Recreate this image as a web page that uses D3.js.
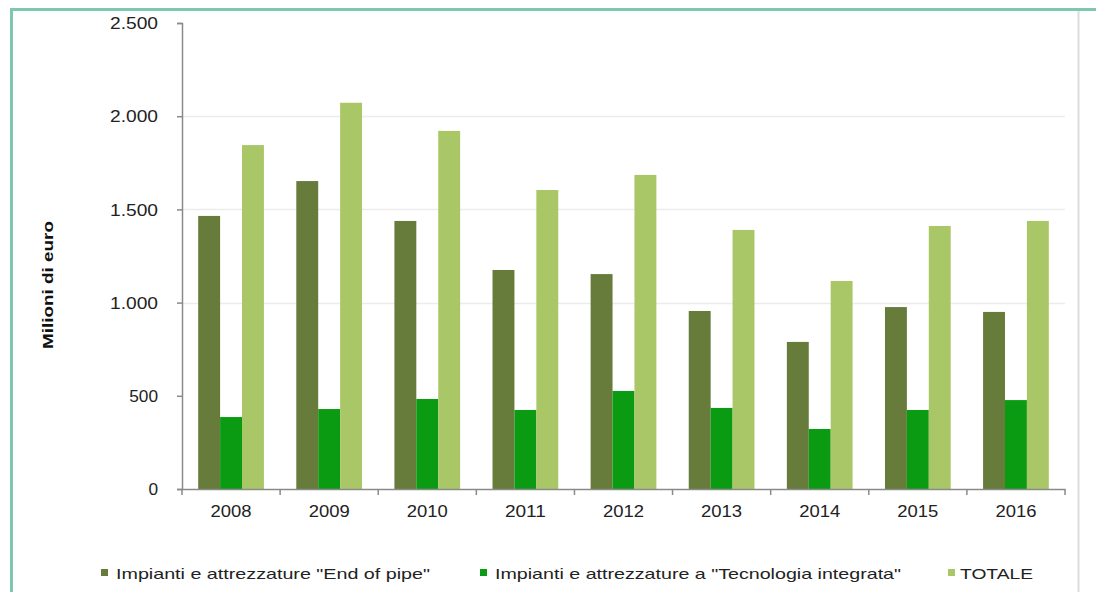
<!DOCTYPE html>
<html><head><meta charset="utf-8">
<script src="https://cdn.jsdelivr.net/npm/d3@7"></script>
<style>
html,body{margin:0;padding:0;background:#fff;}
svg{display:block;font-family:"Liberation Sans",Arial,sans-serif;}
</style></head>
<body>
<svg id="c" width="1096" height="592"></svg>
<script>
const years = ["2008","2009","2010","2011","2012","2013","2014","2015","2016"];
const endOfPipe = [1465, 1652, 1438, 1175, 1153, 955, 789, 976, 950];
const tecnologiaIntegrata = [386, 429, 483, 424, 526, 435, 322, 424, 477];
const totale = [1845, 2072, 1921, 1604, 1685, 1390, 1116, 1411, 1438];
const seriesNames = ['Impianti e attrezzature "End of pipe"', 'Impianti e attrezzature a "Tecnologia integrata"', 'TOTALE'];
const seriesColors = ["#677b3a", "#0b9b12", "#a9c766"];
const yTicks = [0, 500, 1000, 1500, 2000, 2500];

const svg = d3.select("#c");
// frame
svg.append("rect").attr("x",0).attr("y",0).attr("width",1096).attr("height",592).attr("fill","#fff");
svg.append("line").attr("x1",1078.5).attr("x2",1078.5).attr("y1",10).attr("y2",592).attr("stroke","#dcdcdc").attr("stroke-width",2);
svg.append("line").attr("x1",10).attr("x2",1096).attr("y1",9.5).attr("y2",9.5).attr("stroke","#7fc7b0").attr("stroke-width",3);
svg.append("line").attr("x1",11.5).attr("x2",11.5).attr("y1",8).attr("y2",592).attr("stroke","#7fc7b0").attr("stroke-width",3);

const x0 = d3.scaleBand().domain(years).range([182, 1065]).paddingInner(0.33).paddingOuter(0.165);
const keys = [0,1,2];
const x1 = d3.scaleBand().domain(keys).range([0, x0.bandwidth()]);
const y = d3.scaleLinear().domain([0, 2500]).range([489, 23]);

// grid
svg.append("g").selectAll("line").data([1000,1500,2000]).join("line")
  .attr("x1",183).attr("x2",1065).attr("y1",d=>Math.round(y(d))+0.5).attr("y2",d=>Math.round(y(d))+0.5)
  .attr("stroke","#ececec").attr("stroke-width",1.5);

const data = years.map((yr,i)=>({yr, vals:[endOfPipe[i], tecnologiaIntegrata[i], totale[i]]}));
svg.append("g").selectAll("g").data(data).join("g")
  .attr("transform", d=>`translate(${x0(d.yr)},0)`)
  .selectAll("rect").data(d=>d.vals.map((v,k)=>({v,k}))).join("rect")
  .attr("x", d=>x1(d.k)).attr("width", x1.bandwidth())
  .attr("y", d=>y(d.v)).attr("height", d=>y(0)-y(d.v))
  .attr("fill", d=>seriesColors[d.k]);

// y axis
const yAxis = svg.append("g").attr("transform","translate(182,0)")
  .call(d3.axisLeft(y).tickValues(yTicks).tickSize(5).tickPadding(19)
    .tickFormat(d=>d3.formatLocale({decimal:",",thousands:".",grouping:[3],currency:["€",""]}).format(",")(d)));
yAxis.select(".domain").attr("stroke","#8a8a8a").attr("stroke-width",1.5);
yAxis.selectAll(".tick line").attr("stroke","#8a8a8a").attr("stroke-width",1.5);
yAxis.selectAll(".tick text").attr("font-size",16).attr("fill","#222").attr("dy","0.36em")
  .attr("textLength", function(){return this.textContent.length*9.6;}).attr("lengthAdjust","spacingAndGlyphs");

// x axis
const xAxis = svg.append("g").attr("transform","translate(0,489)")
  .call(d3.axisBottom(x0).tickSize(0).tickPadding(20));
xAxis.select(".domain").attr("stroke","#8a8a8a").attr("stroke-width",1.5);
xAxis.selectAll(".tick text").attr("font-size",16).attr("fill","#222").attr("dy","0.5em")
  .attr("textLength",41).attr("lengthAdjust","spacingAndGlyphs");
const step = x0.step();
const bounds = d3.range(years.length+1).map(i=>182 + i*(883/years.length));
svg.append("g").selectAll("line").data(bounds).join("line")
  .attr("x1",d=>d).attr("x2",d=>d).attr("y1",489).attr("y2",495)
  .attr("stroke","#8a8a8a").attr("stroke-width",1.5);

// y label
svg.append("text").attr("transform","translate(53,285) rotate(-90)")
  .attr("text-anchor","middle").attr("font-size",14).attr("font-weight","bold").attr("fill","#111")
  .attr("textLength",128).attr("lengthAdjust","spacingAndGlyphs")
  .text("Milioni di euro");

// legend
const legX = [101, 480, 948];
const legW = [314, 406, 73];
const leg = svg.append("g").selectAll("g").data(seriesNames).join("g")
  .attr("transform",(d,i)=>`translate(${legX[i]},573)`);
leg.append("rect").attr("x",0).attr("y",-4).attr("width",7).attr("height",7).attr("fill",(d,i)=>seriesColors[i]);
leg.append("text").attr("x",(d,i)=> i===2?12:15).attr("y",6).attr("font-size",15).attr("fill","#222")
  .attr("textLength",(d,i)=>legW[i]).attr("lengthAdjust","spacingAndGlyphs").text(d=>d);
</script>
</body></html>
